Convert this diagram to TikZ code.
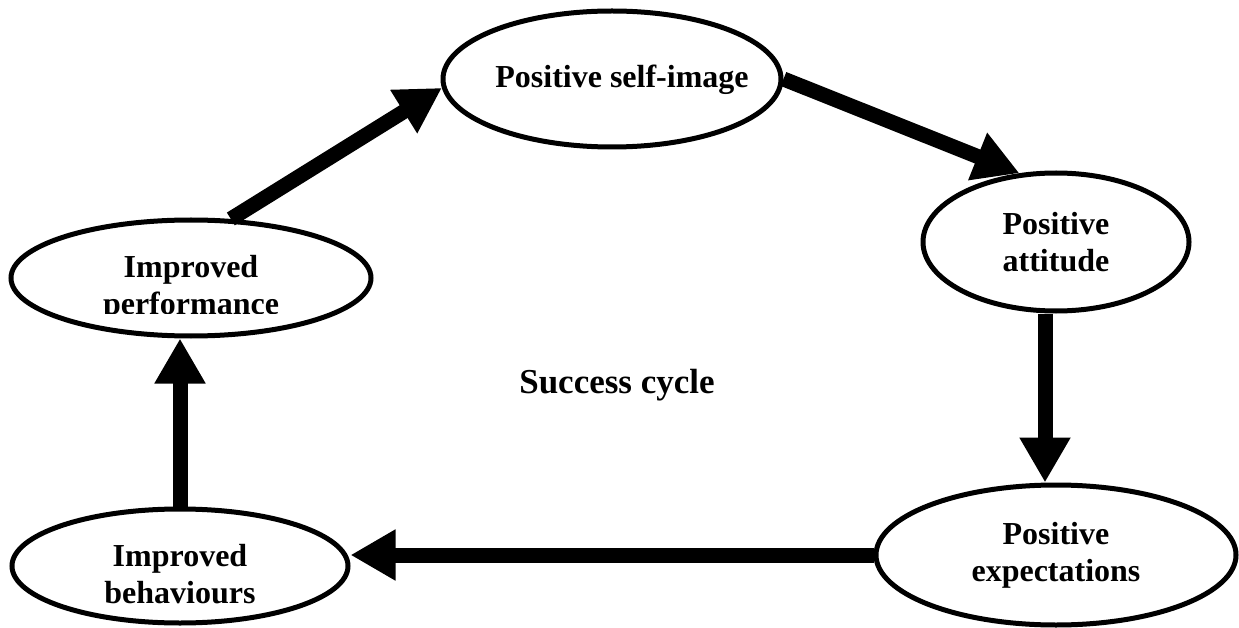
\documentclass[tikz,border=0pt]{standalone}
\usepackage{fontspec}
\setmainfont{Liberation Serif}
\usetikzlibrary{shapes.geometric,arrows.meta}
\begin{document}
\begin{tikzpicture}[x=1pt,y=-1pt,
  oval/.style={ellipse,draw=black,line width=5pt,inner sep=0pt,align=center,
    font=\fontsize{32}{37}\selectfont\bfseries},
  lbl/.style={inner sep=0pt,align=center,font=\fontsize{32}{37}\selectfont\bfseries},
  arr/.style={line width=15pt,-{Triangle[length=45pt,width=48pt]}}]
\useasboundingbox (0,0) rectangle (1239,628);
\node[oval,minimum width=338pt,minimum height=136pt] (self) at (612,79) {};
\node[lbl] (selfl) at (622,80) {Positive self-image};
\node[oval,minimum width=266pt,minimum height=138pt] (att) at (1056,242) {Positive\\attitude};
\node[oval,minimum width=360pt,minimum height=140pt] (exp) at (1056,555) {Positive\\expectations};
\node[oval,minimum width=336pt,minimum height=114pt] (beh) at (180,566) {};
\node[lbl] (behl) at (180,574) {Improved\\behaviours};
\node[oval,minimum width=360pt,minimum height=116pt] (perf) at (191,278) {};
\begin{scope}
  \clip (0,200) rectangle (400,313);
  \node[lbl] (perfl) at (191,288) {Improved\\performance};
\end{scope}
\node[lbl,font=\fontsize{35}{40}\selectfont\bfseries] (succ) at (617,385) {Success cycle};
\draw[arr] (perf.56) -- (self.183);
\draw[arr] (self.east) -- (att.118);
\draw[arr] ([xshift=-11pt]att.south) -- ([xshift=-11pt]exp.north);
\draw[arr] (exp.west) -- (exp.west -| beh.east);
\draw[arr] (beh.north) -- (beh.north |- perf.south);
\end{tikzpicture}
\end{document}
